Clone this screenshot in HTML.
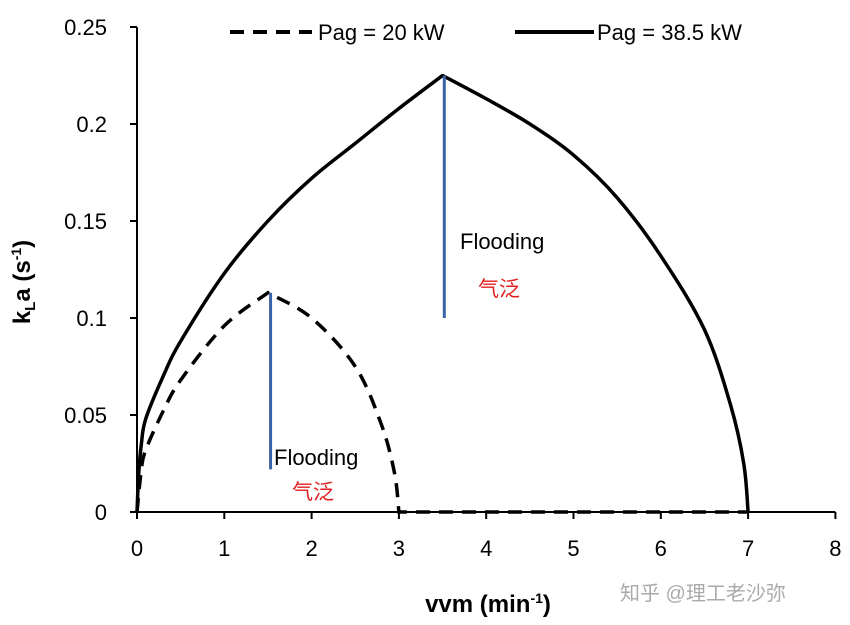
<!DOCTYPE html>
<html><head><meta charset="utf-8"><style>
body{margin:0;background:#fff;}
svg{display:block;font-family:"Liberation Sans","Noto Sans CJK SC",sans-serif;}
</style></head><body>
<svg width="850" height="625">
<g id="axes"></g><g id="marks"></g>
<text x="18" y="270" transform="rotate(-90 30 270)" font-size="24" font-weight="bold" text-anchor="middle">k<tspan font-size="15" dy="5">L</tspan><tspan dy="-5">a (s</tspan><tspan font-size="14" dy="-9">-1</tspan><tspan dy="9">)</tspan></text>
<text x="488" y="612" font-size="24" font-weight="bold" text-anchor="middle">vvm (min<tspan font-size="14" dy="-9">-1</tspan><tspan dy="9">)</tspan></text>
<g>
<line x1="230" y1="32" x2="312" y2="32" stroke="#000" stroke-width="4" stroke-dasharray="14,9"/>
<text x="318" y="40" font-size="22">Pag = 20 kW</text>
<line x1="515" y1="32" x2="594" y2="32" stroke="#000" stroke-width="4"/>
<text x="597" y="40" font-size="22">Pag = 38.5 kW</text>
</g>
<text x="460" y="249" font-size="22">Flooding</text>
<text x="478" y="296" font-size="21" fill="#e02020">气泛</text>
<text x="274" y="465" font-size="22">Flooding</text>
<text x="292" y="499" font-size="21" fill="#e02020">气泛</text>
<text x="620" y="600" font-size="20" fill="#aaa">知乎 @理工老沙弥</text>
</svg>
<script>
const xTicks=[0,1,2,3,4,5,6,7,8];
const yTicks=[0,0.05,0.1,0.15,0.2,0.25];
const yTickLabels=["0","0.05","0.1","0.15","0.2","0.25"];
const solidX=[0,0.02,0.05,0.1,0.3,0.5,1,1.5,2,2.5,3,3.5,4,4.5,5,5.5,6,6.5,6.8,6.95,7];
const solidY=[0,0.02,0.035,0.048,0.07,0.088,0.123,0.15,0.172,0.19,0.208,0.225,0.213,0.2,0.184,0.162,0.132,0.094,0.055,0.025,0];
const dashX=[0,0.05,0.1,0.3,0.5,1,1.5,2,2.5,2.8,2.95,3,4,5,6,7];
const dashY=[0,0.022,0.032,0.052,0.068,0.096,0.113,0.1,0.075,0.045,0.02,0,0,0,0,0];
const floodX=[1.53,3.52];
const floodTop=[0.113,0.225];
const floodBottom=[0.022,0.1];
const NS="http://www.w3.org/2000/svg";
const X=v=>137+v*87.3, Y=v=>512-v*1940;
const ax=document.getElementById('axes'), mk=document.getElementById('marks');
function el(t,a,p){const e=document.createElementNS(NS,t);for(const k in a)e.setAttribute(k,a[k]);p.appendChild(e);return e;}
let e=el('line',{x1:X(0),y1:Y(0),x2:X(8),y2:Y(0),stroke:'#000','stroke-width':2},ax);


e=el('line',{x1:X(0),y1:Y(0),x2:X(0),y2:Y(0.25),stroke:'#000','stroke-width':2},ax);


xTicks.forEach(t=>{
 el('line',{x1:X(t),y1:512,x2:X(t),y2:519,stroke:'#000','stroke-width':2},ax);
 const tx=el('text',{x:X(t),y:556,'font-size':22,'text-anchor':'middle'},ax);tx.textContent=t;
 
 
});
yTicks.forEach((t,i)=>{
 el('line',{x1:130,y1:Y(t),x2:137,y2:Y(t),stroke:'#000','stroke-width':2},ax);
 const tx=el('text',{x:107,y:Y(t)+8,'font-size':22,'text-anchor':'end'},ax);tx.textContent=yTickLabels[i];
 
 
});
// smooth path, with sharp corners at break indices; flat (zero) tail drawn straight
function path(xs,ys,breaks){
 const p=xs.map((x,i)=>[X(x),Y(ys[i])]);
 let d='M'+p[0][0]+','+p[0][1];
 for(let i=0;i<p.length-1;i++){
  if(ys[i]===0&&ys[i+1]===0){d+='L'+p[i+1][0]+','+p[i+1][1];continue;}
  const p0=(i===0||breaks.includes(i))?p[i]:p[i-1], p1=p[i], p2=p[i+1], p3=(i+2>=p.length||breaks.includes(i+1))?p[i+1]:p[i+2];
  const t=1/6;
  d+='C'+(p1[0]+(p2[0]-p0[0])*t)+','+(p1[1]+(p2[1]-p0[1])*t)+' '+(p2[0]-(p3[0]-p1[0])*t)+','+(p2[1]-(p3[1]-p1[1])*t)+' '+p2[0]+','+p2[1];
 }
 return d;
}
e=el('path',{d:path(solidX,solidY,[solidY.indexOf(Math.max(...solidY))]),fill:'none',stroke:'#000','stroke-width':3.5,'stroke-linejoin':'round'},mk);


const dz=dashY.findIndex((v,i)=>i>0&&v===0);
e=el('path',{d:path(dashX,dashY,[dashY.indexOf(Math.max(...dashY)),dz]),fill:'none',stroke:'#000','stroke-width':3.5,'stroke-dasharray':'14,9'},mk);


floodX.forEach((x,i)=>{
 const l=el('line',{x1:X(x),y1:Y(floodTop[i]),x2:X(x),y2:Y(floodBottom[i]),stroke:'#3a64a8','stroke-width':3},mk);
 
 
});
</script>
</body></html>
